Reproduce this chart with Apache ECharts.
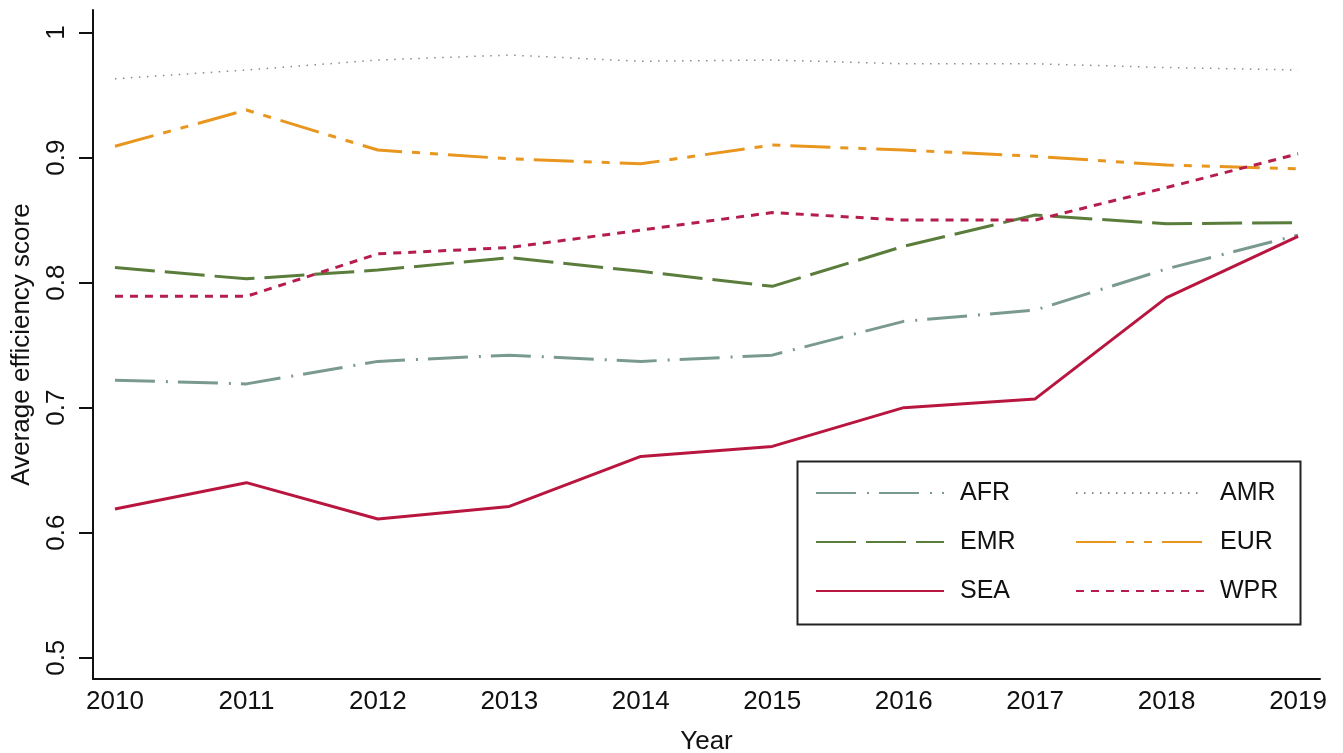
<!DOCTYPE html>
<html>
<head>
<meta charset="utf-8">
<script src="https://cdn.jsdelivr.net/npm/echarts@6/dist/echarts.min.js"></script>
<style>
html,body{margin:0;padding:0;background:#fff;}
#chart{width:1343px;height:753px;}
</style>
</head>
<body>
<div id="chart"></div>
<script>
const years = [2010, 2011, 2012, 2013, 2014, 2015, 2016, 2017, 2018, 2019];
const yTickValues = [0.5, 0.6, 0.7, 0.8, 0.9, 1.0];
const yTickLabels = ["0.5", "0.6", "0.7", "0.8", "0.9", "1"];

const AFR = [0.722, 0.719, 0.737, 0.742, 0.737, 0.742, 0.769, 0.778, 0.811, 0.838];
const AMR = [0.963, 0.970, 0.978, 0.982, 0.977, 0.978, 0.975, 0.975, 0.972, 0.970];
const EMR = [0.812, 0.803, 0.810, 0.820, 0.809, 0.797, 0.829, 0.854, 0.847, 0.848];
const EUR = [0.909, 0.938, 0.906, 0.899, 0.895, 0.910, 0.906, 0.901, 0.894, 0.891];
const SEA = [0.619, 0.640, 0.611, 0.621, 0.661, 0.669, 0.700, 0.707, 0.788, 0.837];
const WPR = [0.789, 0.789, 0.823, 0.828, 0.842, 0.856, 0.850, 0.850, 0.876, 0.903];

const FONT = '"Liberation Sans", Arial, Helvetica, sans-serif';

function mk(name, vals, color, dash, width) {
  return {
    name: name,
    type: 'line',
    data: years.map((y, i) => [y, vals[i]]),
    symbol: 'none',
    showSymbol: false,
    lineStyle: { color: color, width: width, type: dash, cap: 'butt', join: 'round' },
    itemStyle: { color: color },
    emphasis: { disabled: true }
  };
}

const chart = echarts.init(document.getElementById('chart'), null, { renderer: 'canvas' });

const legendText = { fontFamily: FONT, fontSize: 25, color: '#111', lineHeight: 28, padding: [0, 0, 0, 11] };
const legendCommon = {
  orient: 'vertical',
  top: 474,
  itemWidth: 128, itemHeight: 28, itemGap: 21,
  textStyle: legendText,
  itemStyle: { opacity: 0, borderWidth: 0 },
  selectedMode: false
};

chart.setOption({
  animation: false,
  backgroundColor: '#fff',
  grid: { left: 93, right: 23, top: 10, bottom: 74, containLabel: false, outerBoundsMode: 'none' },
  xAxis: {
    type: 'value',
    min: 2009.833,
    max: 2019.167,
    name: 'Year',
    nameLocation: 'middle',
    nameGap: 50,
    nameTextStyle: { fontFamily: FONT, fontSize: 26, color: '#111' },
    axisLine: { show: true, lineStyle: { color: '#111', width: 2 } },
    axisTick: { show: false },
    splitLine: { show: false },
    axisLabel: {
      customValues: years,
      formatter: v => String(Math.round(v)),
      fontFamily: FONT, fontSize: 26, color: '#111', margin: 10
    }
  },
  yAxis: {
    type: 'value',
    min: 0.483,
    max: 1.018,
    name: 'Average efficiency score',
    nameLocation: 'middle',
    nameGap: 58,
    nameRotate: 90,
    nameTextStyle: { fontFamily: FONT, fontSize: 26, color: '#111' },
    axisLine: { show: true, lineStyle: { color: '#111', width: 2 } },
    axisTick: { show: true, customValues: yTickValues, length: 14, lineStyle: { color: '#111', width: 2 } },
    splitLine: { show: false },
    axisLabel: {
      customValues: yTickValues,
      rotate: 90,
      formatter: v => {
        const i = yTickValues.findIndex(t => Math.abs(t - v) < 1e-6);
        return i >= 0 ? yTickLabels[i] : '';
      },
      fontFamily: FONT, fontSize: 26, color: '#111', margin: 23
    }
  },
  legend: [
    Object.assign({ data: ['AFR', 'EMR', 'SEA'], left: 810 }, legendCommon),
    Object.assign({ data: ['AMR', 'EUR', 'WPR'], left: 1070 }, legendCommon)
  ],
  graphic: [
    {
      type: 'rect',
      left: 795, top: 459,
      shape: { width: 503, height: 163 },
      style: { fill: 'none', stroke: '#222', lineWidth: 2 },
      z: 100
    }
  ],
  series: [
    mk('AFR', AFR, '#7a9a90', [40, 11, 2, 10], 3),
    mk('AMR', AMR, '#8a8a8a', [1.5, 6.5], 1.5),
    mk('EMR', EMR, '#5a7d3b', [40, 10], 3),
    mk('EUR', EUR, '#e8961e', [40, 10, 8, 10, 8, 10], 3),
    mk('SEA', SEA, '#b8163f', 'solid', 3),
    mk('WPR', WPR, '#b51e4c', [8, 7], 3)
  ]
});
</script>
</body>
</html>
